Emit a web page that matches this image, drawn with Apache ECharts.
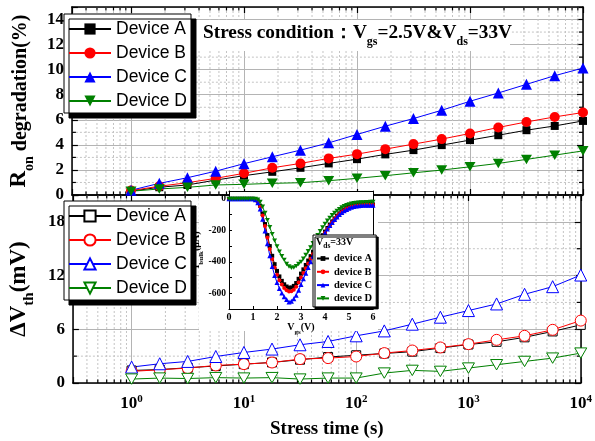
<!DOCTYPE html>
<html>
<head>
<meta charset="utf-8">
<script src="https://cdn.jsdelivr.net/npm/echarts@6/dist/echarts.min.js"></script>
<style>
html,body{margin:0;padding:0;background:#fff}
#chart{width:595px;height:441px}
</style>
</head>
<body>
<div id="chart"></div>
<script>
// Stress time points (s), four per decade
const stressTime = [1, 1.78, 3.16, 5.62, 10, 17.8, 31.6, 56.2, 100, 178, 316, 562, 1000, 1780, 3160, 5620, 10000];

// Ron degradation (%)
const ronA = [0.30, 0.62, 0.80, 1.19, 1.54, 1.85, 2.17, 2.52, 2.86, 3.24, 3.58, 3.98, 4.38, 4.77, 5.17, 5.51, 5.91];
const ronB = [0.35, 0.70, 0.98, 1.33, 1.73, 2.17, 2.52, 2.92, 3.26, 3.66, 4.06, 4.46, 4.91, 5.39, 5.83, 6.23, 6.58];
const ronC = [0.38, 0.93, 1.38, 1.90, 2.50, 3.05, 3.58, 4.16, 4.83, 5.49, 6.10, 6.76, 7.48, 8.14, 8.83, 9.52, 10.13];
const ronD = [0.30, 0.48, 0.61, 0.80, 0.85, 0.93, 0.98, 1.14, 1.33, 1.54, 1.77, 1.99, 2.25, 2.52, 2.84, 3.18, 3.52];

// Threshold voltage shift (mV)
const dvthA = [1.40, 1.50, 1.70, 1.90, 2.10, 2.30, 2.60, 2.90, 3.10, 3.30, 3.50, 3.90, 4.30, 4.60, 5.10, 5.76, 6.49];
const dvthB = [1.30, 1.48, 1.67, 1.96, 2.11, 2.29, 2.67, 2.78, 2.96, 3.34, 3.63, 3.97, 4.34, 4.82, 5.27, 5.94, 6.97];
const dvthC = [1.78, 2.15, 2.41, 2.96, 3.41, 3.79, 4.27, 4.64, 5.27, 5.82, 6.57, 7.35, 8.09, 8.83, 9.91, 10.76, 12.06];
const dvthD = [0.44, 0.55, 0.50, 0.60, 0.55, 0.60, 0.44, 0.55, 0.55, 1.11, 1.41, 1.30, 1.67, 2.04, 2.41, 2.78, 3.34];

// Bulk current sweep at Vds = 33 V
const vgs = [0.0, 0.1, 0.2, 0.3, 0.4, 0.5, 0.6, 0.7, 0.8, 0.9, 1.0, 1.1, 1.2, 1.3, 1.4, 1.5, 1.6, 1.7, 1.8, 1.9,
  2.0, 2.1, 2.2, 2.3, 2.4, 2.5, 2.6, 2.7, 2.8, 2.9, 3.0, 3.1, 3.2, 3.3, 3.4, 3.5, 3.6, 3.7, 3.8, 3.9,
  4.0, 4.1, 4.2, 4.3, 4.4, 4.5, 4.6, 4.7, 4.8, 4.9, 5.0, 5.1, 5.2, 5.3, 5.4, 5.5, 5.6, 5.7, 5.8, 5.9, 6.0];
const ibulkA = [0, 0, 0, 0, 0, 0, 0, 0, 0, 0, 0,
  -3, -15, -45, -95, -160, -230, -300, -362, -415, -458, -493, -521, -543, -557, -565, -563, -553, -535, -508, -475,
  -448, -420, -392, -364, -336, -308, -282, -256, -231, -208, -185, -163, -143, -124, -107, -92, -79, -68, -59, -52,
  -47, -43, -40, -38, -37, -36, -35, -35, -35, -35];
const ibulkB = [0, 0, 0, 0, 0, 0, 0, 0, 0, 0, 0,
  -3, -17, -50, -105, -172, -245, -318, -382, -437, -482, -517, -545, -567, -581, -589, -587, -577, -558, -531, -500,
  -471, -441, -411, -381, -351, -322, -294, -266, -240, -215, -191, -169, -148, -128, -111, -96, -83, -72, -63, -56,
  -50, -46, -43, -41, -40, -39, -38, -38, -38, -38];
const ibulkC = [0, 0, 0, 0, 0, 0, 0, 0, 0, 0, 0,
  -5, -25, -65, -130, -205, -285, -362, -430, -487, -532, -569, -598, -622, -640, -655, -650, -635, -612, -581, -545,
  -508, -472, -436, -400, -365, -332, -300, -270, -242, -216, -192, -170, -150, -131, -115, -100, -87, -76, -67, -60,
  -54, -49, -46, -44, -42, -41, -40, -40, -40, -40];
const ibulkD = [0, 0, 0, 0, 0, 0, 0, 0, 0, 0, 0, 0,
  -5, -20, -50, -90, -135, -180, -224, -265, -302, -335, -364, -388, -414, -430, -438, -437, -428, -414, -400,
  -380, -357, -333, -308, -282, -256, -230, -205, -181, -159, -139, -121, -104, -89, -76, -65, -55, -47, -40, -35,
  -31, -28, -26, -24, -23, -22, -21, -21, -20, -20];

const deviceNames = ['Device A', 'Device B', 'Device C', 'Device D'];
const insetNames = ['device A', 'device B', 'device C', 'device D'];
const colors = ['#000000', '#ff0000', '#0000ff', '#008000'];

const SERIF = "'Liberation Serif','Times New Roman',serif";
const SANS = "'Liberation Sans',Arial,sans-serif";
const DOWN_TRI = 'path://M0,0L10,0L5,8.66Z';
const MAJOR_GRID = '#b4b4b4';
const MINOR_GRID = '#c4c4c4';

const zip = (xs, ys) => xs.map((x, i) => [x, ys[i]]);

// minor positions on the log time axis (2..9 within each decade)
const logMinor = [];
for (let k = -1; k <= 3; k++) {
  for (let m = 2; m <= 9; m++) {
    const v = Number((m * Math.pow(10, k)).toPrecision(3));
    if (v > 0.3 && v < 10000) logMinor.push(v);
  }
}
const ronMinor = [1, 3, 5, 7, 9, 11, 13];
const dvthMinor = [3, 9, 15];

function xMinorItem(params, api) {
  const x = api.coord([api.value(0), 1])[0];
  const cs = params.coordSys;
  const top = cs.y, bot = cs.y + cs.height;
  return {
    type: 'group',
    children: [
      { type: 'line', shape: { x1: x, y1: top, x2: x, y2: bot }, style: { stroke: MINOR_GRID, lineWidth: 1, lineDash: [2, 2] } },
      { type: 'line', shape: { x1: x, y1: bot, x2: x, y2: bot - 3.5 }, style: { stroke: '#000', lineWidth: 1.2 } },
      { type: 'line', shape: { x1: x, y1: top, x2: x, y2: top + 3.5 }, style: { stroke: '#000', lineWidth: 1.2 } }
    ]
  };
}
function yMinorItem(params, api) {
  const y = api.coord([1, api.value(1)])[1];
  const cs = params.coordSys;
  const l = cs.x, r = cs.x + cs.width;
  return {
    type: 'group',
    children: [
      { type: 'line', shape: { x1: l, y1: y, x2: r, y2: y }, style: { stroke: MINOR_GRID, lineWidth: 1, lineDash: [2, 2] } },
      { type: 'line', shape: { x1: l, y1: y, x2: l + 4, y2: y }, style: { stroke: '#000', lineWidth: 1.2 } },
      { type: 'line', shape: { x1: r, y1: y, x2: r - 4, y2: y }, style: { stroke: '#000', lineWidth: 1.2 } }
    ]
  };
}

const axisLine = { show: true, onZero: false, lineStyle: { color: '#000', width: 1.5 } };
const tickIn = { show: true, inside: true, length: 6, lineStyle: { color: '#000', width: 1.2 } };
const boldSerif = (size) => ({ fontFamily: SERIF, fontWeight: 'bold', fontSize: size, color: '#000' });
// main text sits on a raised bottom; subscript drops to the line bottom
const mainTok = (size, drop) => Object.assign(boldSerif(size), { verticalAlign: 'bottom', padding: [0, 0, drop, 0] });
const subTok = (size) => Object.assign(boldSerif(size), { verticalAlign: 'bottom' });

function timeAxis(gridIndex, position, withLabels) {
  return {
    type: 'log', logBase: 10, min: 0.3, max: 10000, gridIndex, position,
    axisLine, axisTick: tickIn,
    splitLine: { show: position === 'bottom', lineStyle: { color: MAJOR_GRID, width: 1 } },
    axisLabel: withLabels ? {
      margin: 11,
      formatter: (v) => {
        const e = Math.round(Math.log10(v));
        if (Math.abs(v - Math.pow(10, e)) > 1e-6 * v) return '';
        return '{b|10}{e|' + e + '}';
      },
      rich: {
        b: Object.assign(boldSerif(17), { lineHeight: 18, verticalAlign: 'bottom' }),
        e: Object.assign(boldSerif(11), { lineHeight: 12, padding: [0, 0, 8, 0], verticalAlign: 'top' })
      }
    } : { show: false },
    name: withLabels ? 'Stress time (s)' : '',
    nameLocation: 'middle', nameGap: 37,
    nameTextStyle: boldSerif(19)
  };
}

function valueAxis(gridIndex, position, max, interval, lastLabel, name, rich, nameGap) {
  const left = position === 'left';
  return {
    type: 'value', gridIndex, position, min: 0, max, interval,
    axisLine, axisTick: tickIn,
    splitLine: { show: left, lineStyle: { color: MAJOR_GRID, width: 1 } },
    axisLabel: left ? Object.assign(boldSerif(17), { margin: 8, formatter: (v) => (v <= lastLabel ? String(v) : '') }) : { show: false },
    name: left ? name : '',
    nameLocation: 'middle', nameRotate: 90, nameGap,
    nameTextStyle: { rich }
  };
}

const ronRich = { r: mainTok(23, 5), b: mainTok(20, 5), s: subTok(14) };
const dvRich = { b: mainTok(23, 6), s: subTok(15) };
const insetRich = { b: mainTok(10, 3), s: subTok(7) };

const series = [];
const ronSets = [ronA, ronB, ronC, ronD];
const dvSets = [dvthA, dvthB, dvthC, dvthD];
const ibSets = [ibulkA, ibulkB, ibulkC, ibulkD];
const topSymbols = [['rect', 8], ['circle', 10], ['triangle', 11], [DOWN_TRI, 11]];
const botSymbols = [['rect', 9], ['circle', 11], ['triangle', 12], [DOWN_TRI, 12]];
const insetSymbols = [['rect', 4], ['circle', 4], ['triangle', 5], [DOWN_TRI, 5]];

deviceNames.forEach((nm, i) => {
  series.push({
    name: nm, type: 'line', xAxisIndex: 0, yAxisIndex: 0, z: 3,
    data: zip(stressTime, ronSets[i]),
    symbol: topSymbols[i][0], symbolSize: topSymbols[i][1], symbolKeepAspect: true,
    itemStyle: { color: colors[i] }, lineStyle: { color: colors[i], width: 1 },
    animation: false
  });
});
deviceNames.forEach((nm, i) => {
  series.push({
    name: nm + ' (dVth)', type: 'line', xAxisIndex: 2, yAxisIndex: 2, z: 3,
    data: zip(stressTime, dvSets[i]),
    symbol: botSymbols[i][0], symbolSize: botSymbols[i][1], symbolKeepAspect: true,
    itemStyle: { color: '#fff', borderColor: colors[i], borderWidth: 1 },
    lineStyle: { color: colors[i], width: 1 },
    animation: false
  });
});
insetNames.forEach((nm, i) => {
  series.push({
    name: nm, type: 'line', xAxisIndex: 4, yAxisIndex: 4, z: 7,
    data: zip(vgs, ibSets[i]),
    symbol: insetSymbols[i][0], symbolSize: insetSymbols[i][1], symbolKeepAspect: true,
    itemStyle: { color: colors[i] }, lineStyle: { color: colors[i], width: 1 },
    animation: false
  });
});
// dotted minor grid and minor ticks
series.push({ type: 'custom', xAxisIndex: 0, yAxisIndex: 0, z: 1, silent: true, data: logMinor.map(v => [v, 1]), renderItem: xMinorItem, animation: false });
series.push({ type: 'custom', xAxisIndex: 2, yAxisIndex: 2, z: 1, silent: true, data: logMinor.map(v => [v, 1]), renderItem: xMinorItem, animation: false });
series.push({ type: 'custom', xAxisIndex: 0, yAxisIndex: 0, z: 1, silent: true, data: ronMinor.map(v => [1, v]), renderItem: yMinorItem, animation: false });
series.push({ type: 'custom', xAxisIndex: 2, yAxisIndex: 2, z: 1, silent: true, data: dvthMinor.map(v => [1, v]), renderItem: yMinorItem, animation: false });

const legendBase = {
  orient: 'vertical', backgroundColor: '#fff', borderColor: '#000', borderWidth: 1,
  shadowColor: '#000', shadowBlur: 0, shadowOffsetX: 5, shadowOffsetY: 5,
  itemWidth: 42, itemHeight: 14, itemGap: 6, padding: [6, 4, 3, 4],
  textStyle: { fontFamily: SANS, fontSize: 17.5, color: '#000' },
  selectedMode: false
};

const option = {
  backgroundColor: '#fff',
  animation: false,
  grid: [
    { left: 61, top: 7, width: 522, height: 188 },
    { left: 61, top: 195, width: 522, height: 188 },
    { left: 229, top: 191, width: 144, height: 118, z: 6 }
  ],
  xAxis: [
    timeAxis(0, 'bottom', false),
    timeAxis(0, 'top', false),
    timeAxis(1, 'bottom', true),
    timeAxis(1, 'top', false),
    {
      type: 'value', gridIndex: 2, min: 0, max: 6, interval: 1, position: 'bottom', z: 6,
      axisLine: { show: true, onZero: false, lineStyle: { color: '#000', width: 1 } },
      axisTick: { show: true, inside: true, length: 3, lineStyle: { color: '#000' } },
      splitLine: { show: false },
      axisLabel: Object.assign(boldSerif(10), { margin: 3 }),
      name: '{b|V}{s|gs}{b|(V)}', nameLocation: 'middle', nameGap: 10,
      nameTextStyle: { rich: insetRich }
    },
    {
      type: 'value', gridIndex: 2, min: 0, max: 6, interval: 1, position: 'top', z: 6,
      axisLine: { show: true, onZero: false, lineStyle: { color: '#000', width: 1 } },
      axisTick: { show: false }, splitLine: { show: false }, axisLabel: { show: false }
    }
  ],
  yAxis: [
    valueAxis(0, 'left', 15, 2, 14, '{r|R}{s|on}{b| degradation(%)}', ronRich, 26),
    valueAxis(0, 'right', 15, 2, 14, '', {}, 0),
    valueAxis(1, 'left', 21, 6, 18, '{b|ΔV}{s|th}{b|(mV)}', dvRich, 26),
    valueAxis(1, 'right', 21, 6, 18, '', {}, 0),
    {
      type: 'value', gridIndex: 2, min: -700, max: 50, interval: 100, position: 'left', z: 6,
      axisLine: { show: true, onZero: false, lineStyle: { color: '#000', width: 1 } },
      axisTick: { show: true, inside: true, length: 3, lineStyle: { color: '#000' } },
      splitLine: { show: false },
      axisLabel: Object.assign(boldSerif(9.5), { margin: 3, formatter: (v) => (v <= 0 && v % 200 === 0 ? String(v) : '') }),
      name: '{b|I}{s|bulk}{b|(μA)}', nameLocation: 'middle', nameRotate: 90, nameGap: 20,
      nameTextStyle: { rich: insetRich }
    },
    {
      type: 'value', gridIndex: 2, min: -700, max: 50, interval: 100, position: 'right', z: 6,
      axisLine: { show: true, onZero: false, lineStyle: { color: '#000', width: 1 } },
      axisTick: { show: false }, splitLine: { show: false }, axisLabel: { show: false }
    }
  ],
  legend: [
    Object.assign({}, legendBase, { left: 64, top: 14, data: deviceNames }),
    Object.assign({}, legendBase, {
      left: 64, top: 201, data: deviceNames.map(n => n + ' (dVth)'),
      formatter: (n) => n.replace(' (dVth)', '')
    }),
    {
      orient: 'vertical', left: 313, top: 235, z: 8, selectedMode: false,
      backgroundColor: '#fff', borderColor: '#000', borderWidth: 1,
      shadowColor: '#000', shadowBlur: 0, shadowOffsetX: 2, shadowOffsetY: 2,
      itemWidth: 12, itemHeight: 6, itemGap: 2.3, padding: [18, 4, 3, 3],
      textStyle: boldSerif(10.5),
      data: insetNames
    }
  ],
  graphic: [
    { type: 'rect', z: 3, shape: { x: 196, y: 20, width: 314, height: 31 }, style: { fill: '#fff' } },
    {
      type: 'text', z: 4, x: 203, y: 36,
      style: {
        text: '{b|Stress condition：V}{s|gs}{b|=2.5V&V}{s|ds}{b|=33V}',
        verticalAlign: 'middle',
        rich: { b: mainTok(19.3, 5), s: subTok(12) }
      }
    },
    { type: 'rect', z: 5, shape: { x: 199, y: 196, width: 179, height: 135 }, style: { fill: '#fff' } },
    { type: 'rect', z: 5, shape: { x: 229, y: 191, width: 144, height: 6 }, style: { fill: '#fff' } },
    {
      type: 'text', z: 9, x: 316, y: 244,
      style: {
        text: '{b|V}{s|ds}{b|=33V}',
        verticalAlign: 'middle',
        rich: { b: mainTok(10, 3), s: subTok(7.5) }
      }
    }
  ],
  series
};

const chart = echarts.init(document.getElementById('chart'), null, { renderer: 'canvas' });
chart.setOption(option);
</script>
</body>
</html>
